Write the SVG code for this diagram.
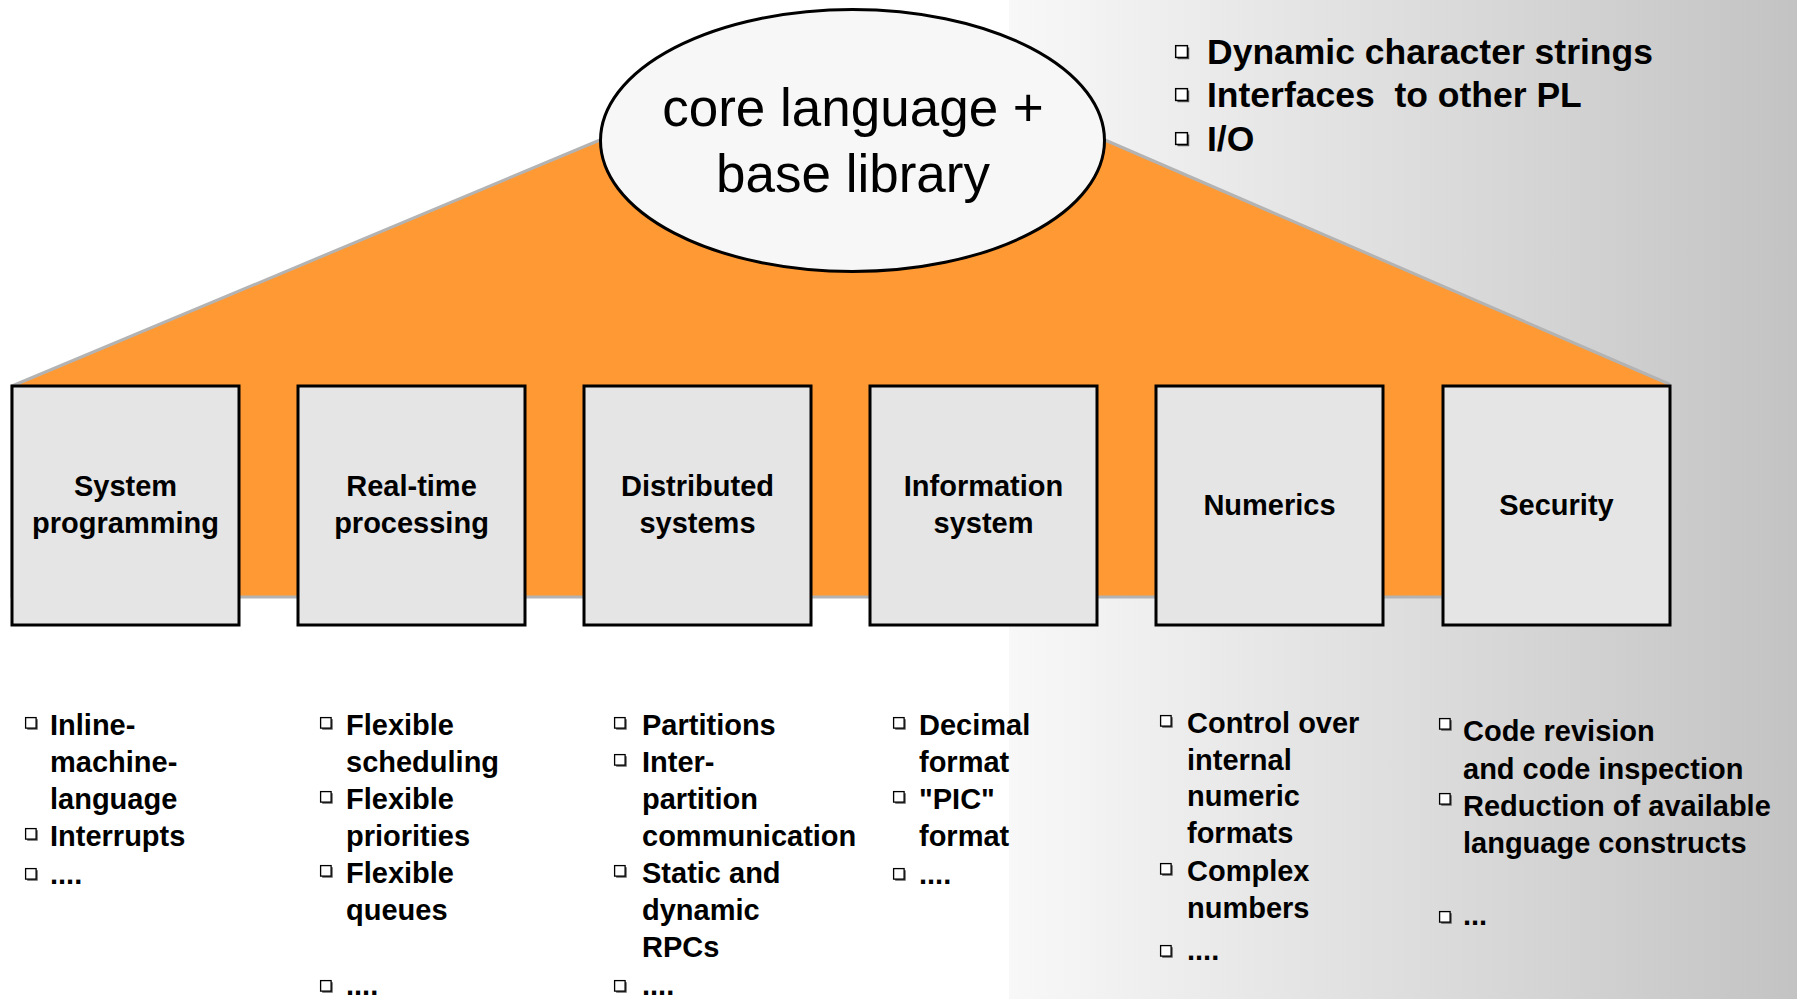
<svg xmlns="http://www.w3.org/2000/svg" width="1797" height="999" viewBox="0 0 1797 999">
  <defs>
    <linearGradient id="bgFade" x1="0" y1="0" x2="1" y2="0">
      <stop offset="0" stop-color="#f8f8f8"/>
      <stop offset="1" stop-color="#c3c3c3"/>
    </linearGradient>
    <!-- shadowed hollow square used as list bullet -->
    <g id="bullet">
      <rect x="2.2" y="2.2" width="10.5" height="10.5" fill="#555"/>
      <rect x="0.6" y="0.6" width="10.5" height="10.5" fill="#fff" stroke="#000" stroke-width="1.3"/>
    </g>
  </defs>
  <style>
    .sans{font-family:"Liberation Sans",Arial,Helvetica,sans-serif;fill:#000}
    .lbl{font-weight:bold;font-size:29px;text-anchor:middle}
    .item{font-weight:bold;font-size:29px}
    .topitem{font-weight:bold;font-size:35.5px}
    .core{font-size:53px;text-anchor:middle}
    .box{fill:#e5e5e5;stroke:#000;stroke-width:3}
  </style>

  <!-- background -->
  <rect width="1797" height="999" fill="#fff"/>
  <rect x="1009" y="0" width="788" height="999" fill="url(#bgFade)"/>

  <!-- orange roof / base shape -->
  <g id="roof">
    <polygon points="12,386 600,140 1105,140 1669,384 1669,597 12,597" fill="#ff9933" stroke="#b3b3b3" stroke-width="3" stroke-linejoin="round"/>
  </g>

  <g id="connectors"/>

  <!-- core -->
  <g id="core">
    <ellipse cx="852.5" cy="140.5" rx="252" ry="131" fill="#f7f7f7" stroke="#000" stroke-width="3"/>
    <text class="sans core" x="853" y="126">core language +</text>
    <text class="sans core" x="853" y="192">base library</text>
  </g>

  <!-- application areas -->
  <g id="n-system">
    <rect class="box" x="12" y="386" width="227" height="239"/>
    <text class="sans lbl" x="125.5" y="496">System</text>
    <text class="sans lbl" x="125.5" y="533">programming</text>
  </g>
  <g id="n-realtime">
    <rect class="box" x="298" y="386" width="227" height="239"/>
    <text class="sans lbl" x="411.5" y="496">Real-time</text>
    <text class="sans lbl" x="411.5" y="533">processing</text>
  </g>
  <g id="n-distributed">
    <rect class="box" x="584" y="386" width="227" height="239"/>
    <text class="sans lbl" x="697.5" y="496">Distributed</text>
    <text class="sans lbl" x="697.5" y="533">systems</text>
  </g>
  <g id="n-information">
    <rect class="box" x="870" y="386" width="227" height="239"/>
    <text class="sans lbl" x="983.5" y="496">Information</text>
    <text class="sans lbl" x="983.5" y="533">system</text>
  </g>
  <g id="n-numerics">
    <rect class="box" x="1156" y="386" width="227" height="239"/>
    <text class="sans lbl" x="1269.5" y="515">Numerics</text>
  </g>
  <g id="n-security">
    <rect class="box" x="1443" y="386" width="227" height="239"/>
    <text class="sans lbl" x="1556.5" y="515">Security</text>
  </g>

  <!-- core library features -->
  <g id="core-features">
    <use href="#bullet" transform="translate(1175,45) scale(1.12)"/>
    <text class="sans topitem" x="1207" y="64">Dynamic character strings</text>
    <use href="#bullet" transform="translate(1175,88) scale(1.12)"/>
    <text class="sans topitem" x="1207" y="107" xml:space="preserve">Interfaces  to other PL</text>
    <use href="#bullet" transform="translate(1175,132) scale(1.12)"/>
    <text class="sans topitem" x="1207" y="151">I/O</text>
  </g>

  <!-- feature lists per area -->
  <g id="list-system">
    <use href="#bullet" x="25" y="717"/>
    <text class="sans item" x="50" y="735">Inline-</text>
    <text class="sans item" x="50" y="772">machine-</text>
    <text class="sans item" x="50" y="809">language</text>
    <use href="#bullet" x="25" y="828"/>
    <text class="sans item" x="50" y="846">Interrupts</text>
    <use href="#bullet" x="25" y="868"/>
    <text class="sans item" x="50" y="884">....</text>
  </g>
  <g id="list-realtime">
    <use href="#bullet" x="320" y="717"/>
    <text class="sans item" x="346" y="735">Flexible</text>
    <text class="sans item" x="346" y="772">scheduling</text>
    <use href="#bullet" x="320" y="791"/>
    <text class="sans item" x="346" y="809">Flexible</text>
    <text class="sans item" x="346" y="846">priorities</text>
    <use href="#bullet" x="320" y="865"/>
    <text class="sans item" x="346" y="883">Flexible</text>
    <text class="sans item" x="346" y="920">queues</text>
    <use href="#bullet" x="320" y="980"/>
    <text class="sans item" x="346" y="995">....</text>
  </g>
  <g id="list-distributed">
    <use href="#bullet" x="614" y="717"/>
    <text class="sans item" x="642" y="735">Partitions</text>
    <use href="#bullet" x="614" y="754"/>
    <text class="sans item" x="642" y="772">Inter-</text>
    <text class="sans item" x="642" y="809">partition</text>
    <text class="sans item" x="642" y="846">communication</text>
    <use href="#bullet" x="614" y="865"/>
    <text class="sans item" x="642" y="883">Static and</text>
    <text class="sans item" x="642" y="920">dynamic</text>
    <text class="sans item" x="642" y="957">RPCs</text>
    <use href="#bullet" x="614" y="980"/>
    <text class="sans item" x="642" y="995">....</text>
  </g>
  <g id="list-information">
    <use href="#bullet" x="893" y="717"/>
    <text class="sans item" x="919" y="735">Decimal</text>
    <text class="sans item" x="919" y="772">format</text>
    <use href="#bullet" x="893" y="791"/>
    <text class="sans item" x="919" y="809">"PIC"</text>
    <text class="sans item" x="919" y="846">format</text>
    <use href="#bullet" x="893" y="868"/>
    <text class="sans item" x="919" y="884">....</text>
  </g>
  <g id="list-numerics">
    <use href="#bullet" x="1160" y="715"/>
    <text class="sans item" x="1187" y="733">Control over</text>
    <text class="sans item" x="1187" y="770">internal</text>
    <text class="sans item" x="1187" y="806">numeric</text>
    <text class="sans item" x="1187" y="843">formats</text>
    <use href="#bullet" x="1160" y="863"/>
    <text class="sans item" x="1187" y="881">Complex</text>
    <text class="sans item" x="1187" y="918">numbers</text>
    <use href="#bullet" x="1160" y="945"/>
    <text class="sans item" x="1187" y="960">....</text>
  </g>
  <g id="list-security">
    <use href="#bullet" x="1439" y="718"/>
    <text class="sans item" x="1463" y="741">Code revision</text>
    <text class="sans item" x="1463" y="779">and code inspection</text>
    <use href="#bullet" x="1439" y="793"/>
    <text class="sans item" x="1463" y="816">Reduction of available</text>
    <text class="sans item" x="1463" y="853">language constructs</text>
    <use href="#bullet" x="1439" y="911"/>
    <text class="sans item" x="1463" y="925">...</text>
  </g>
</svg>
